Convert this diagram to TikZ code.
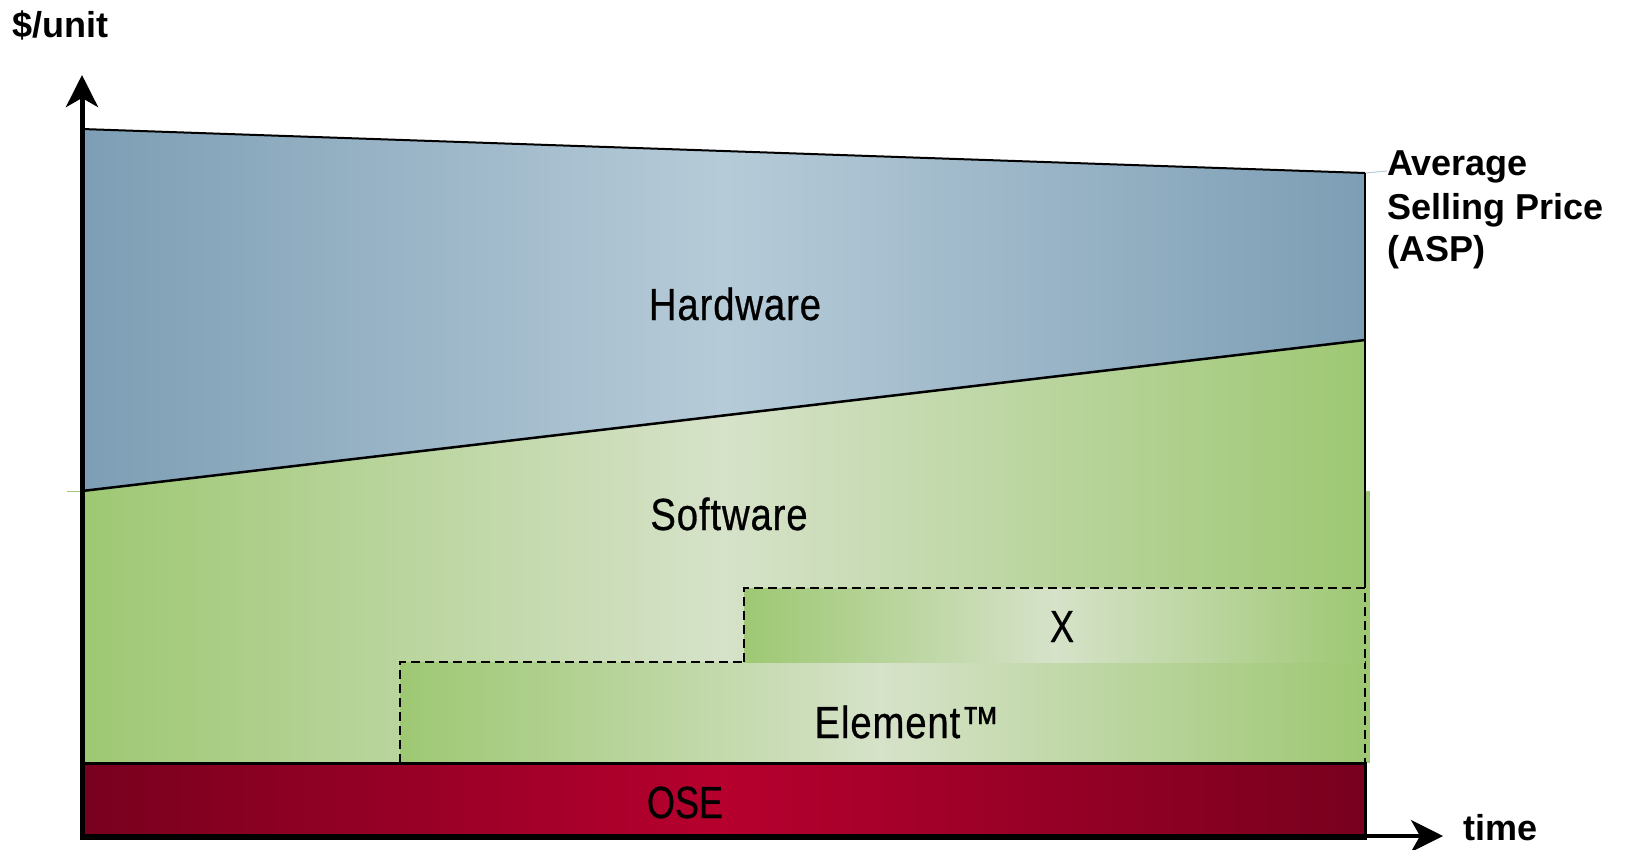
\documentclass[tikz,border=0pt]{standalone}
\usepackage{fontspec}
\setmainfont{Liberation Sans}
\newfontfamily\labfont[FakeStretch=0.85,LetterSpace=2,FakeBold=0.6]{Liberation Sans}
\newfontfamily\osefont[FakeStretch=0.8,FakeBold=0.6]{Liberation Sans}
\usetikzlibrary{arrows.meta}
\definecolor{hwside}{RGB}{125,158,181}
\definecolor{hwmid}{RGB}{182,203,216}
\definecolor{swside}{RGB}{158,200,115}
\definecolor{swmid}{RGB}{214,226,201}
\definecolor{oseside}{RGB}{120,0,30}
\definecolor{osemid}{RGB}{182,0,46}
\begin{document}
\begin{tikzpicture}[x=1pt,y=-1pt,
  lab/.style={inner sep=0pt, anchor=base, font=\labfont\fontsize{45}{45}\selectfont},
  oselab/.style={inner sep=0pt, anchor=base, font=\osefont\fontsize{45}{45}\selectfont},
  axlab/.style={inner sep=0pt, anchor=base west, font=\fontsize{36}{40}\selectfont\bfseries},
  dashbox/.style={draw=black, line width=2.2pt, dash pattern=on 9pt off 5pt},
  axisline/.style={line width=5pt, -{Stealth[length=32pt,width=32pt,inset=9pt]}},
  bline/.style={line width=2pt, draw=black}]
\useasboundingbox (0,0) rectangle (1630,849);
% key coordinates
\coordinate (hwTL) at (82,129);
\coordinate (hwTR) at (1365,173);
\coordinate (bdL) at (82,491);
\coordinate (bdR) at (1365,340);
\coordinate (xTop) at (1365,588);
\coordinate (oseTL) at (82,763);
\coordinate (oseBR) at (1365,838);
\coordinate (origin) at (82,840);
\coordinate (ytip) at (82,75);
\coordinate (xstart) at (80,836);
\coordinate (xtip) at (1443,836);
% hardware area
\shade[left color=hwside, right color=hwside, middle color=hwmid]
  (hwTL) -- (hwTR) -- (bdR) -- (bdL) -- cycle;
% software area
\shade[left color=swside, right color=swside, middle color=swmid]
  (bdL) -- (bdR) -- (1365,763) -- (oseTL) -- cycle;
\fill[swside] (1365,491) rectangle (1370,763);
\draw[swside, line width=1pt] (67,491) -- (bdL);
\draw[hwmid, line width=1pt] (hwTR) -- (1387,171);
% Element box
\shade[left color=swside, right color=swside, middle color=swmid]
  (400,662) rectangle (1365,763);
\draw[dashbox] (400,763) -- (400,662) -- (1365,662) -- (1365,763);
% X box
\shade[left color=swside, right color=swside, middle color=swmid]
  (744,588) rectangle (1365,662);
\draw[dashbox] (744,662) -- (744,588) -- (1365,588) -- (1365,662);
% OSE bar
\shade[left color=oseside, right color=oseside, middle color=osemid]
  (oseTL) rectangle (oseBR);
\draw[line width=3pt] (oseTL) rectangle (oseBR);
% outlines
\draw[bline] (hwTL) -- (hwTR);
\draw[bline, line width=2.5pt] (bdL) -- (bdR);
\draw[bline] (hwTR) -- (xTop);
% axes
\draw[axisline] (origin) -- (ytip);
\draw[axisline, line width=4pt] (xstart) -- (xtip);
% labels
\node[lab] (hw) at (735,320) {Hardware};
\node[lab] (sw) at (729,530) {Software};
\node[oselab] (x) at (1062,642) {X};
\node[lab] (el) at (907,738) {Element™};
\node[oselab] (ose) at (685,818) {OSE};
\node[axlab] (yl) at (12,37) {\$/unit};
\node[axlab] (asp1) at (1387,175) {Average};
\node[axlab] (asp2) at (1387,219) {Selling Price};
\node[axlab] (asp3) at (1387,261) {(ASP)};
\node[axlab] (tl) at (1463,840) {time};
\end{tikzpicture}
\end{document}
